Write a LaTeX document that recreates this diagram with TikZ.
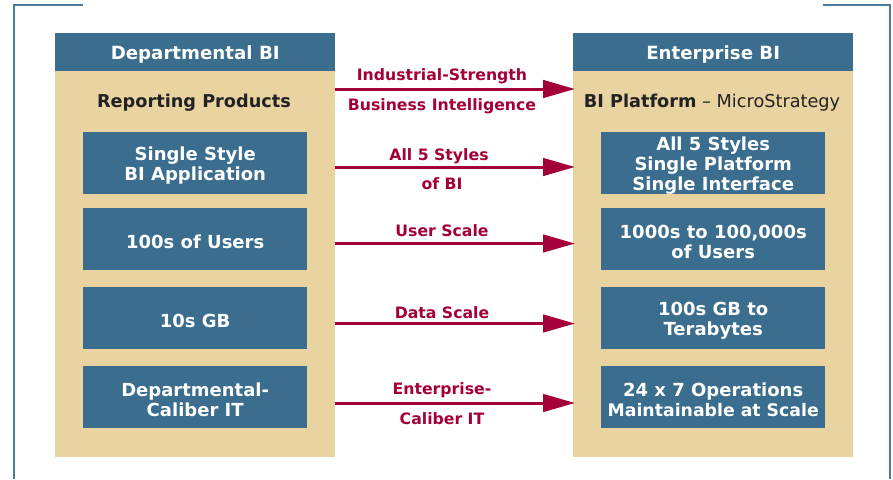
\documentclass[tikz,border=0pt]{standalone}
\usepackage{fontspec}
\setmainfont{DejaVu Sans}
\usetikzlibrary{arrows.meta}
\definecolor{hdrblue}{HTML}{3A6D8E}
\definecolor{beige}{HTML}{E8D3A1}
\definecolor{arrred}{HTML}{A3003A}
\definecolor{framecol}{HTML}{4A7C9E}
\definecolor{darktxt}{HTML}{222222}
\tikzset{
  panel/.style={fill=beige, draw=none, minimum width=280pt, minimum height=424pt, anchor=north west, inner sep=0pt},
  header/.style={fill=hdrblue, draw=none, minimum width=280pt, minimum height=38pt, anchor=north west, inner sep=0pt},
  hdrtext/.style={text=white, inner sep=0pt, yshift=-2.5pt, font=\fontsize{18.2}{21}\selectfont\bfseries},
  item/.style={fill=hdrblue, draw=none, minimum width=224pt, minimum height=62pt, anchor=north west, inner sep=0pt},
  itemtext/.style={text=white, align=center, inner sep=0pt, yshift=-2.5pt, font=\fontsize{18}{19.8}\selectfont\bfseries},
  sub/.style={text=darktxt, yshift=-2.5pt, font=\fontsize{17.7}{20}\selectfont},
  lbl/.style={text=arrred, yshift=-1.5pt, font=\fontsize{15.7}{18}\selectfont\bfseries, inner sep=0pt},
  bigarrow/.style={draw=arrred, line width=3pt, -{Triangle[length=32pt,width=17.5pt]}},
  framel/.style={draw=framecol, line width=2pt}
}
\begin{document}
\begin{tikzpicture}[x=1pt,y=-1pt]
\useasboundingbox (0,0) rectangle (893,479);
% frame
\coordinate (f1) at (83,5);
\coordinate (f2) at (14,5);
\coordinate (f3) at (14,479);
\coordinate (g1) at (823,5);
\coordinate (g2) at (890,5);
\coordinate (g3) at (890,479);
\draw[framel] (f1) -- (f2) -- (f3);
\draw[framel] (g1) -- (g2) -- (g3);
% panels
\node[panel] (lp) at (55,33) {};
\node[panel] (rp) at (573,33) {};
\node[header] (lh) at (55,33) {};
\node[header] (rh) at (573,33) {};
\node[hdrtext] (lht) at (lh.center) {Departmental BI};
\node[hdrtext] (rht) at (rh.center) {Enterprise BI};
\node[sub] (ls) at (194,100) {\bfseries Reporting Products};
\node[sub] (rs) at (712,100) {\textbf{BI Platform} -- MicroStrategy};
% left items
\node[item] (l1) at (83,132) {};
\node[item] (l2) at (83,208) {};
\node[item] (l3) at (83,287) {};
\node[item] (l4) at (83,366) {};
\node[itemtext] (l1t) at (l1.center) {Single Style\\BI Application};
\node[itemtext] (l2t) at (l2.center) {100s of Users};
\node[itemtext] (l3t) at (l3.center) {10s GB};
\node[itemtext] (l4t) at (l4.center) {Departmental-\\Caliber IT};
% right items
\node[item] (r1) at (601,132) {};
\node[item] (r2) at (601,208) {};
\node[item] (r3) at (601,287) {};
\node[item] (r4) at (601,366) {};
\node[itemtext] (r1t) at (r1.center) {All 5 Styles\\Single Platform\\Single Interface};
\node[itemtext] (r2t) at (r2.center) {1000s to 100,000s\\of Users};
\node[itemtext] (r3t) at (r3.center) {100s GB to\\Terabytes};
\node[itemtext] (r4t) at (r4.center) {24 x 7 Operations\\{\fontsize{17.3}{19.8}\selectfont Maintainable at Scale}};
% arrows
\foreach \i/\yy in {0/89,1/167,2/243.5,3/323.5,4/403}{
  \coordinate (as\i) at (335,\yy);
  \coordinate (ae\i) at (575,\yy);
  \draw[bigarrow] (as\i) -- (ae\i);
}
\node[lbl] (t0a) at (442,75) {Industrial-Strength};
\node[lbl] (t0b) at (442,105) {Business Intelligence};
\node[lbl] (t1a) at (439,155) {All 5 Styles};
\node[lbl] (t1b) at (442,182) {of BI};
\node[lbl] (t2a) at (442,229) {User Scale};
\node[lbl] (t3a) at (442,311) {Data Scale};
\node[lbl] (t4a) at (442,389) {Enterprise-};
\node[lbl] (t4b) at (442,417) {Caliber IT};
\end{tikzpicture}
\end{document}
